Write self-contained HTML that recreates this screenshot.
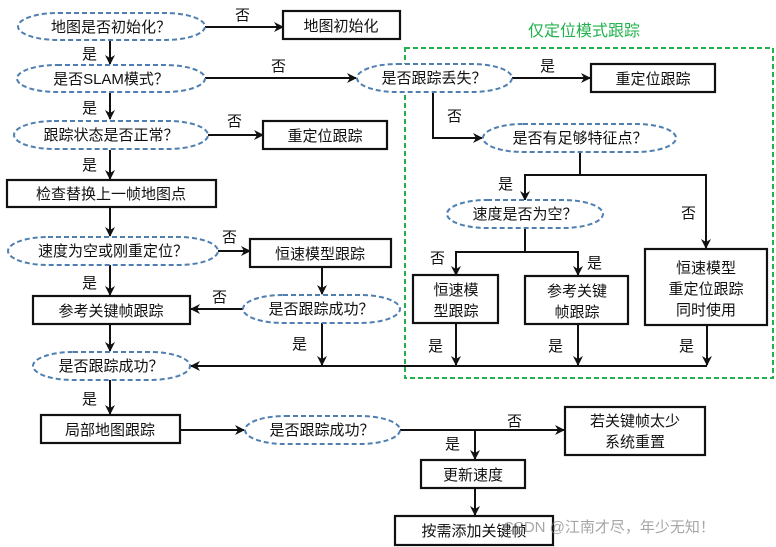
<!DOCTYPE html>
<html><head><meta charset="utf-8"><style>
html,body{margin:0;padding:0;background:#fff;}
svg{display:block;}
text{font-family:"Liberation Sans","Noto Sans CJK SC",sans-serif;font-size:15px;fill:#111;}
.e{fill:#fff;stroke:#4f7fb0;stroke-width:2;stroke-dasharray:5,3;}
.b{fill:#fff;stroke:#111;stroke-width:2.2;}
.l{stroke:#111;stroke-width:2;fill:none;}
</style></head><body>
<svg width="776" height="547" viewBox="0 0 776 547" xmlns="http://www.w3.org/2000/svg">
<defs><marker id="a" markerWidth="10" markerHeight="10" refX="9" refY="5" orient="auto" markerUnits="userSpaceOnUse"><path d="M0,0 L10,5 L0,10 L3,5 Z" fill="#111"/></marker></defs>
<rect x="405" y="48" width="368" height="330" fill="none" stroke="#22b14c" stroke-width="2" stroke-dasharray="5,3"/>
<text x="584" y="36" text-anchor="middle" style="fill:#22b14c;font-size:16px">仅定位模式跟踪</text>

<!-- connectors -->
<g class="l" marker-end="url(#a)">
<line x1="205" y1="27" x2="283" y2="27"/>
<line x1="110" y1="40" x2="110" y2="64"/>
<line x1="205" y1="78" x2="356" y2="78"/>
<line x1="110" y1="93" x2="110" y2="119"/>
<line x1="208" y1="135" x2="263" y2="135"/>
<line x1="110" y1="150" x2="110" y2="179"/>
<line x1="110" y1="207" x2="110" y2="236"/>
<line x1="218" y1="251" x2="250" y2="251"/>
<line x1="110" y1="265" x2="110" y2="295"/>
<line x1="322" y1="267" x2="322" y2="294"/>
<line x1="243" y1="309" x2="191" y2="309"/>
<line x1="322" y1="323" x2="322" y2="365"/>
<line x1="110" y1="324" x2="110" y2="351"/>
<line x1="110" y1="380" x2="110" y2="414"/>
<line x1="180" y1="430" x2="244" y2="430"/>
<line x1="400" y1="430" x2="564" y2="430"/>
<line x1="475" y1="430" x2="475" y2="459"/>
<line x1="475" y1="488" x2="475" y2="515"/>
<line x1="512" y1="78" x2="590" y2="78"/>
<polyline points="433,92 433,138 482,138"/>
<polyline points="580,152 580,175 525,175 525,200"/>
<polyline points="580,175 706,175 706,248"/>
<polyline points="525,228 525,252 456,252 456,275"/>
<polyline points="525,252 578,252 578,275"/>
<line x1="456" y1="323" x2="456" y2="365"/>
<line x1="578" y1="324" x2="578" y2="365"/>
<line x1="707" y1="325" x2="707" y2="365"/>
<line x1="707" y1="366" x2="191" y2="366"/>
</g>

<!-- ellipses -->
<rect class="e" x="18" y="13" width="187" height="27" rx="40" ry="13.5"/>
<text x="111" y="32" text-anchor="middle">地图是否初始化？</text>
<rect class="e" x="17" y="65" width="188" height="27" rx="40" ry="13.5"/>
<text x="111" y="84" text-anchor="middle">是否SLAM模式？</text>
<rect class="e" x="14" y="121" width="194" height="28" rx="40" ry="14"/>
<text x="111" y="140" text-anchor="middle">跟踪状态是否正常？</text>
<rect class="e" x="8" y="237" width="210" height="28" rx="40" ry="14"/>
<text x="113" y="256" text-anchor="middle">速度为空或刚重定位？</text>
<rect class="e" x="243" y="295" width="157" height="28" rx="40" ry="14"/>
<text x="321" y="314" text-anchor="middle">是否跟踪成功？</text>
<rect class="e" x="33" y="352" width="157" height="28" rx="40" ry="14"/>
<text x="111" y="371" text-anchor="middle">是否跟踪成功？</text>
<rect class="e" x="245" y="416" width="155" height="28" rx="40" ry="14"/>
<text x="322" y="435" text-anchor="middle">是否跟踪成功？</text>
<rect class="e" x="357" y="64" width="155" height="28" rx="40" ry="14"/>
<text x="434" y="83" text-anchor="middle">是否跟踪丢失？</text>
<rect class="e" x="483" y="124" width="193" height="28" rx="40" ry="14"/>
<text x="580" y="143" text-anchor="middle">是否有足够特征点？</text>
<rect class="e" x="447" y="200" width="156" height="28" rx="40" ry="14"/>
<text x="525" y="219" text-anchor="middle">速度是否为空？</text>

<!-- boxes -->
<rect class="b" x="283" y="11" width="117" height="28"/>
<text x="341" y="31" text-anchor="middle">地图初始化</text>
<rect class="b" x="263" y="121" width="124" height="28"/>
<text x="325" y="141" text-anchor="middle">重定位跟踪</text>
<rect class="b" x="7" y="180" width="209" height="27"/>
<text x="111" y="199" text-anchor="middle">检查替换上一帧地图点</text>
<rect class="b" x="250" y="239" width="141" height="28"/>
<text x="320" y="259" text-anchor="middle">恒速模型跟踪</text>
<rect class="b" x="33" y="296" width="157" height="28"/>
<text x="111" y="316" text-anchor="middle">参考关键帧跟踪</text>
<rect class="b" x="41" y="415" width="139" height="28"/>
<text x="110" y="435" text-anchor="middle">局部地图跟踪</text>
<rect class="b" x="565" y="407" width="140" height="48"/>
<text x="635" y="426" text-anchor="middle">若关键帧太少</text>
<text x="635" y="447" text-anchor="middle">系统重置</text>
<rect class="b" x="421" y="460" width="104" height="28"/>
<text x="473" y="480" text-anchor="middle">更新速度</text>
<rect class="b" x="395" y="516" width="158" height="29"/>
<text x="474" y="536" text-anchor="middle">按需添加关键帧</text>
<rect class="b" x="591" y="64" width="124" height="28"/>
<text x="653" y="84" text-anchor="middle">重定位跟踪</text>
<rect class="b" x="413" y="275" width="85" height="48"/>
<text x="456" y="295" text-anchor="middle">恒速模</text>
<text x="456" y="316" text-anchor="middle">型跟踪</text>
<rect class="b" x="525" y="276" width="103" height="48"/>
<text x="577" y="296" text-anchor="middle">参考关键</text>
<text x="577" y="317" text-anchor="middle">帧跟踪</text>
<rect class="b" x="645" y="249" width="122" height="76"/>
<text x="706" y="273" text-anchor="middle">恒速模型</text>
<text x="706" y="294" text-anchor="middle">重定位跟踪</text>
<text x="706" y="315" text-anchor="middle">同时使用</text>

<!-- labels -->
<text x="235" y="20">否</text>
<text x="82" y="59">是</text>
<text x="271" y="71">否</text>
<text x="82" y="113">是</text>
<text x="227" y="126">否</text>
<text x="82" y="170">是</text>
<text x="222" y="242">否</text>
<text x="82" y="288">是</text>
<text x="212" y="302">否</text>
<text x="292" y="349">是</text>
<text x="82" y="404">是</text>
<text x="507" y="426">否</text>
<text x="445" y="449">是</text>
<text x="540" y="71">是</text>
<text x="447" y="121">否</text>
<text x="498" y="189">是</text>
<text x="681" y="218">否</text>
<text x="430" y="263">否</text>
<text x="587" y="268">是</text>
<text x="428" y="351">是</text>
<text x="548" y="351">是</text>
<text x="679" y="351">是</text>
<text x="503" y="532" style="fill:#888;fill-opacity:0.75;font-size:15px">CSDN @江南才尽，年少无知！</text>
</svg>
</body></html>
